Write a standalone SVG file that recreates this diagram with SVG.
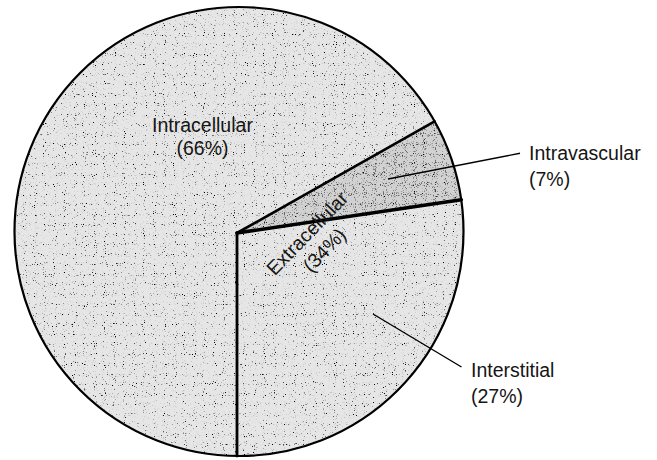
<svg xmlns="http://www.w3.org/2000/svg" width="657" height="460" viewBox="0 0 657 460">
  <style>
    .lbl { font-family: "Liberation Sans", Arial, sans-serif; font-size: 19.5px; fill: #151515; }
    .rim { fill: none; stroke: #000; stroke-width: 2.2; }
    .div { fill: none; stroke: #000; stroke-linecap: round; }
    .lead { fill: none; stroke: #000; stroke-width: 1.4; }
  </style>
  <defs>
    <filter id="dotsGray" filterUnits="userSpaceOnUse" x="0" y="0" width="657" height="460">
      <feTurbulence type="fractalNoise" baseFrequency="0.85" numOctaves="1" seed="7"/>
      <feColorMatrix type="matrix" values="0 0 0 0 0.62  0 0 0 0 0.62  0 0 0 0 0.62  9 0 0 0 -5.5"/>
    </filter>
    <filter id="dotsBlack" filterUnits="userSpaceOnUse" x="0" y="0" width="657" height="460">
      <feTurbulence type="fractalNoise" baseFrequency="0.9" numOctaves="1" seed="23"/>
      <feColorMatrix type="matrix" values="0 0 0 0 0  0 0 0 0 0  0 0 0 0 0  10 0 0 0 -6.7"/>
    </filter>
    <filter id="dotsDense" filterUnits="userSpaceOnUse" x="0" y="0" width="657" height="460">
      <feTurbulence type="fractalNoise" baseFrequency="0.9" numOctaves="1" seed="41"/>
      <feColorMatrix type="matrix" values="0 0 0 0 0.15  0 0 0 0 0.15  0 0 0 0 0.15  8 0 0 0 -4.7"/>
    </filter>
    <clipPath id="clipCircle">
      <circle cx="239" cy="231.5" r="224.5"/>
    </clipPath>
    <clipPath id="clipVasc">
      <path d="M237,233 L434.6,121.4 A224.5,224.5 0 0 1 461.3,199.7 Z"/>
    </clipPath>
  </defs>

  <rect width="657" height="460" fill="#fff"/>

  <g id="intracellular">
    <path d="M237,233 L434.6,121.4 A224.5,224.5 0 1 0 237,456 Z" fill="#e6e6e6"/>
  </g>
  <g id="interstitial">
    <path d="M237,233 L461.3,199.7 A224.5,224.5 0 0 1 237,456 Z" fill="#e6e6e6"/>
  </g>
  <g id="intravascular">
    <path d="M237,233 L434.6,121.4 A224.5,224.5 0 0 1 461.3,199.7 Z" fill="#d2d2d2"/>
  </g>

  <g id="stipple">
    <rect x="0" y="0" width="657" height="460" filter="url(#dotsGray)" clip-path="url(#clipCircle)"/>
    <rect x="0" y="0" width="657" height="460" filter="url(#dotsBlack)" clip-path="url(#clipCircle)"/>
    <rect x="0" y="0" width="657" height="460" filter="url(#dotsDense)" clip-path="url(#clipVasc)"/>
  </g>

  <g id="outline">
    <circle class="rim" cx="239" cy="231.5" r="224.5"/>
    <line class="div" x1="237" y1="233" x2="434.6" y2="121.4" stroke-width="2.6"/>
    <line class="div" x1="237" y1="233" x2="461.3" y2="199.7" stroke-width="3.6"/>
    <line class="div" x1="237" y1="233" x2="237" y2="456" stroke-width="2.8"/>
  </g>

  <g id="connectors">
    <line class="lead" x1="388" y1="179" x2="520" y2="153.3"/>
    <line class="lead" x1="373" y1="314" x2="461.5" y2="367"/>
  </g>

  <g id="label-intracellular">
    <text class="lbl" x="202.5" y="132" text-anchor="middle">Intracellular</text>
    <text class="lbl" x="202.5" y="155" text-anchor="middle">(66%)</text>
  </g>
  <g id="label-extracellular" transform="translate(312,238) rotate(-46)">
    <text class="lbl" x="0" y="0" text-anchor="middle">Extracellular</text>
    <text class="lbl" x="0" y="24" text-anchor="middle">(34%)</text>
  </g>
  <g id="label-intravascular">
    <text class="lbl" x="529" y="160">Intravascular</text>
    <text class="lbl" x="529" y="186">(7%)</text>
  </g>
  <g id="label-interstitial">
    <text class="lbl" x="471" y="377">Interstitial</text>
    <text class="lbl" x="471" y="403">(27%)</text>
  </g>
</svg>
